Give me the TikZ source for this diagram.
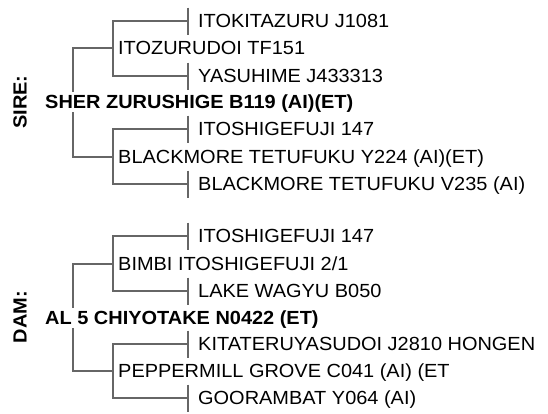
\documentclass[tikz,border=0pt]{standalone}
\usepackage{fontspec}
\setmainfont[FakeStretch=1.05]{Liberation Sans}
\usepackage{tikz}
\usetikzlibrary{calc, positioning}

\begin{document}
\begin{tikzpicture}[x=1pt, y=-1pt,
    line/.style={draw=black!60, line width=1.1pt},
    parent/.style={anchor=west, inner xsep=5pt, inner ysep=3pt,
        text height=13.6pt, text depth=0pt, font=\fontsize{19}{19}\selectfont},
    animal/.style={parent, font=\fontsize{19}{19}\selectfont\bfseries},
    grand/.style={parent, inner xsep=10pt, inner ysep=6.5pt},
    side/.style={rotate=90, font=\fontsize{19}{19}\selectfont\bfseries}]
    \useasboundingbox (0,0) rectangle (548,413);

    % 1. Sire
    \node[side] (sirelab) at (20,102) {SIRE:};
    \node[animal] (sire) at (40,102) {SHER ZURUSHIGE B119 (AI)(ET)};
    \node[parent] (sireS) at (113,48) {ITOZURUDOI TF151};
    \node[parent] (sireD) at (113,157) {BLACKMORE TETUFUKU Y224 (AI)(ET)};
    \node[grand] (sireSS) at (188,21) {ITOKITAZURU J1081};
    \node[grand] (sireSD) at (188,76) {YASUHIME J433313};
    \node[grand] (sireDS) at (188,129) {ITOSHIGEFUJI 147};
    \node[grand] (sireDD) at (188,184) {BLACKMORE TETUFUKU V235 (AI)};
    \coordinate (sireBar) at ([xshift=33pt]sire.west);

    % 2. Dam
    \node[side] (damlab) at (20,317) {DAM:};
    \node[animal] (dam) at (40,318) {AL 5 CHIYOTAKE N0422 (ET)};
    \node[parent] (damS) at (113,264) {BIMBI ITOSHIGEFUJI 2/1};
    \node[parent] (damD) at (113,371) {PEPPERMILL GROVE C041 (AI) (ET};
    \node[grand] (damSS) at (188,236) {ITOSHIGEFUJI 147};
    \node[grand] (damSD) at (188,291) {LAKE WAGYU B050};
    \node[grand] (damDS) at (188,344) {KITATERUYASUDOI J2810 HONGEN};
    \node[grand] (damDD) at (188,398) {GOORAMBAT Y064 (AI)};
    \coordinate (damBar) at ([xshift=33pt]dam.west);

    % 3. Nhanh cay pha he
    \foreach \a in {sire, dam} {
        \draw[line] (\a S.west) -| (\a Bar |- \a.north);
        \draw[line] (\a D.west) -| (\a Bar |- \a.south);
        \draw[line] (\a SS.west) -| (\a S.west) |- (\a SD.west);
        \draw[line] (\a DS.west) -| (\a D.west) |- (\a DD.west);
        \foreach \g in {SS, SD, DS, DD} {
            \draw[line] (\a\g.north west) -- (\a\g.south west);
        }
    }
\end{tikzpicture}
\end{document}
